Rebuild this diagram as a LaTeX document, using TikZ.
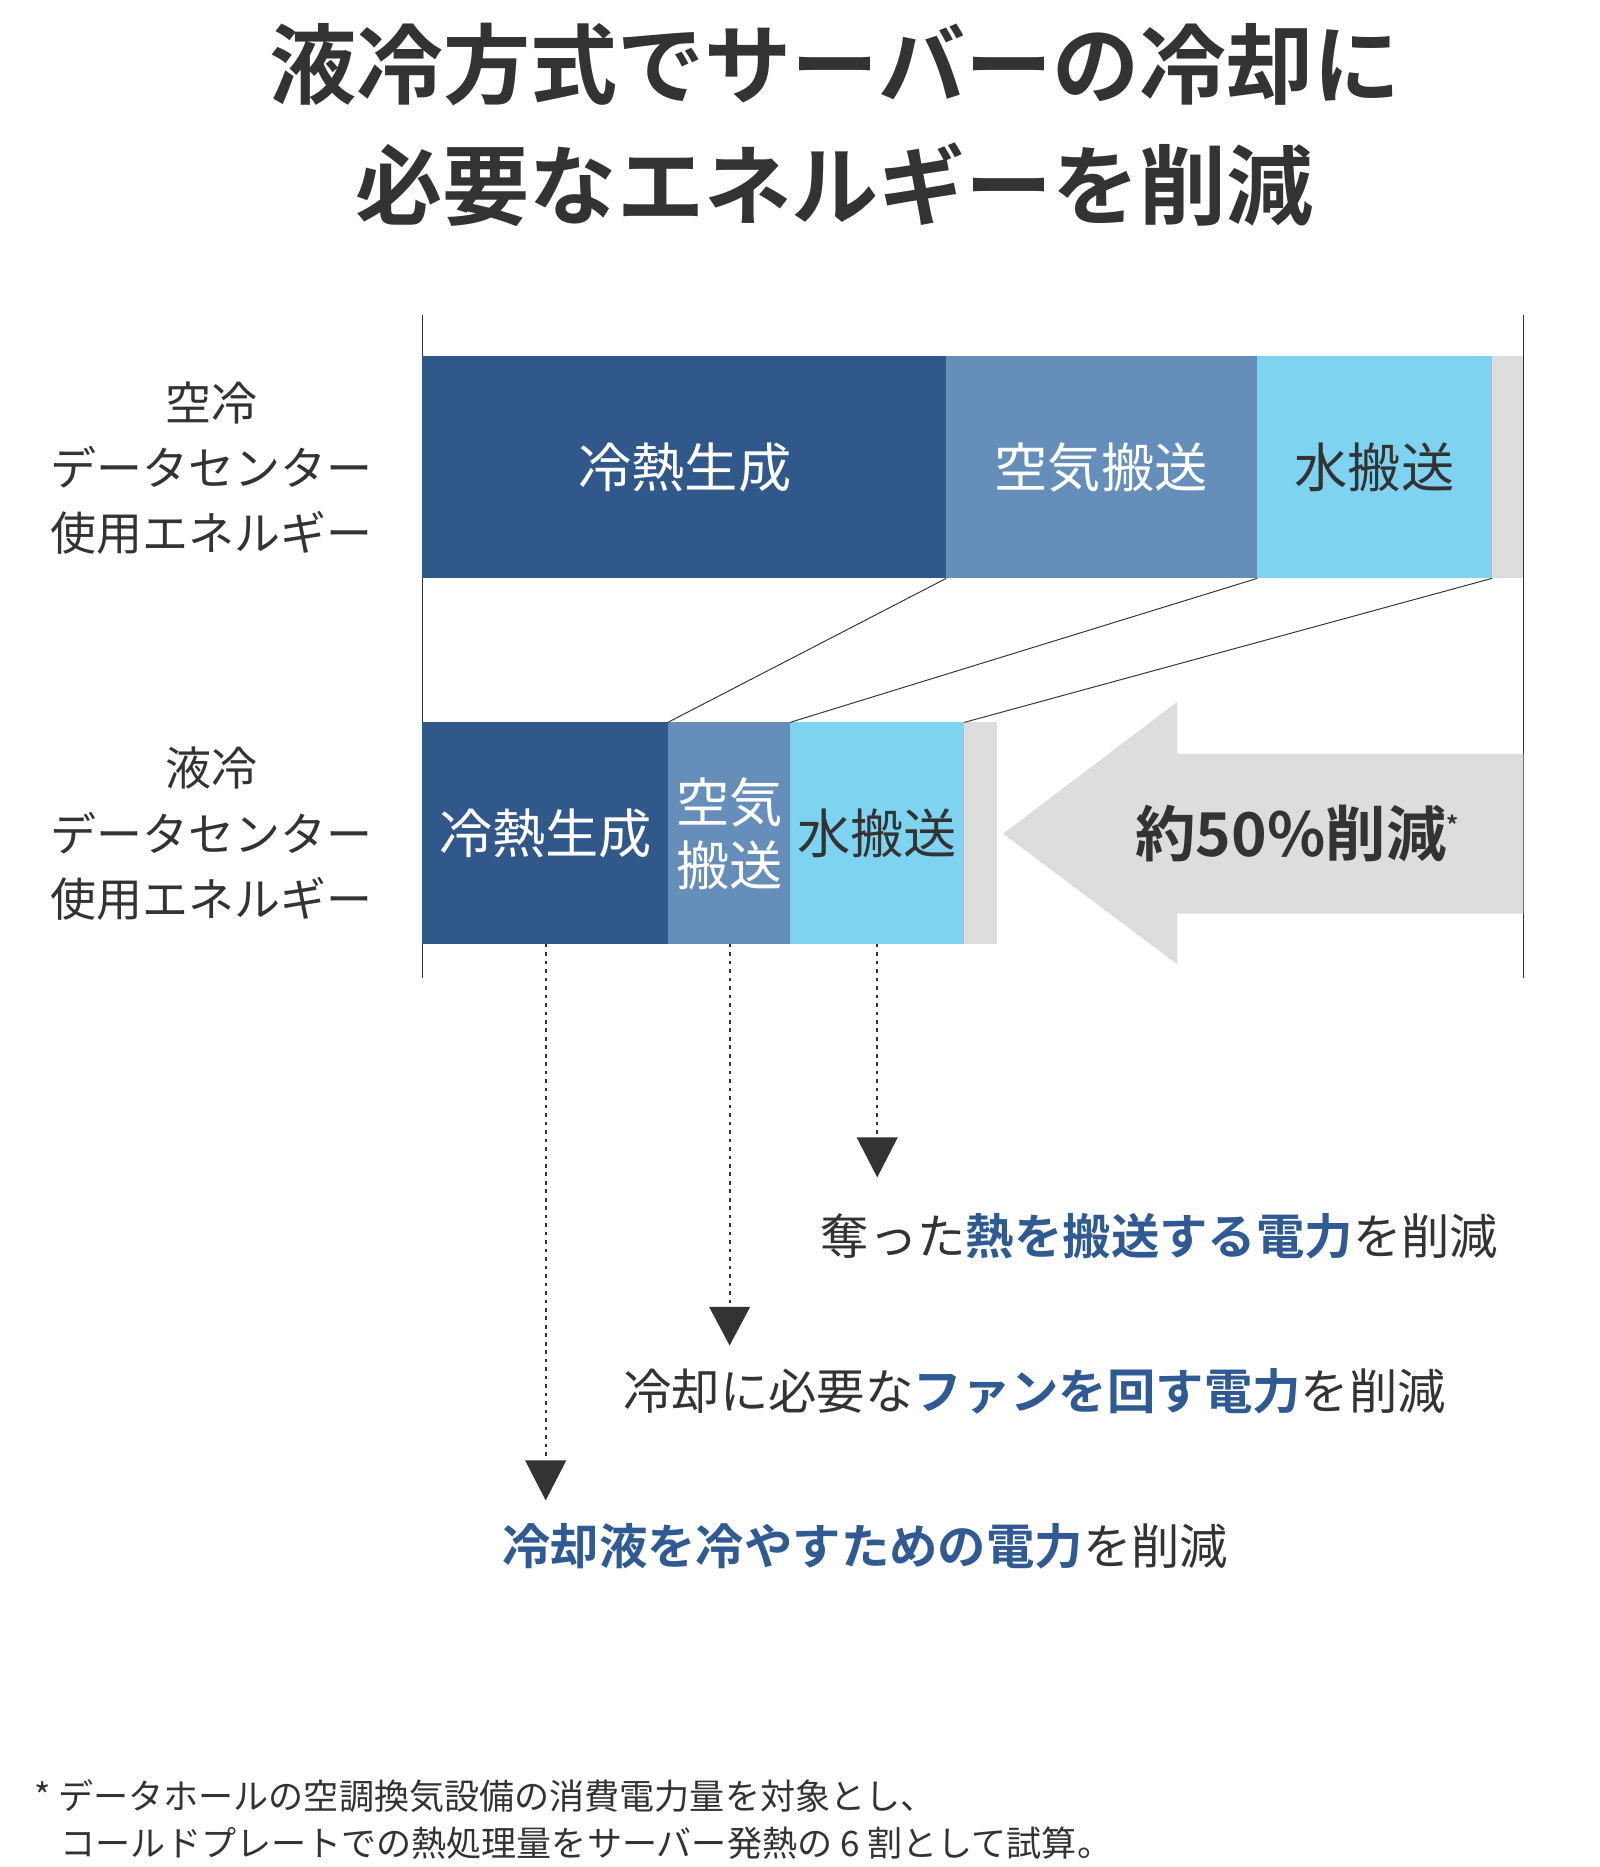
\documentclass[tikz,border=0pt]{standalone}
\usepackage{fontspec}
\setmainfont{Noto Sans CJK JP}[BoldFont={* Bold}]
\usetikzlibrary{arrows.meta}
\definecolor{dk}{HTML}{30588A}
\definecolor{md}{HTML}{668EBB}
\definecolor{lt}{HTML}{7DD3F0}
\definecolor{gr}{HTML}{DDDDDD}
\definecolor{tx}{HTML}{333333}
\definecolor{bl}{HTML}{2F5A93}
\newcommand{\fs}[1]{\fontsize{#1}{#1}\selectfont}
\newcommand{\hb}[1]{\textcolor{bl}{\bfseries #1}}
\begin{document}
\begin{tikzpicture}[x=1pt,y=-1pt,
  lab/.style={text=white,font=\fs{44}},
  side/.style={text=tx,font=\fontsize{38}{54}\selectfont,align=center},
  dl/.style={draw=tx,line width=1.8pt,dash pattern=on 3pt off 4pt},
  tip/.style={fill=tx},
  capt/.style={text=tx,font=\fs{40},anchor=west,inner sep=0},
  conn/.style={draw=tx,line width=0.8pt}]
\useasboundingbox (0,0) rectangle (1322,1543);
\node[text=tx,font=\fontsize{72}{100}\selectfont\bfseries,align=center] (title) at (690,103) {液冷方式でサーバーの冷却に\\必要なエネルギーを削減};
% axes
\coordinate (a1) at (349,260); \coordinate (a2) at (349,808);
\coordinate (b1) at (1259,260); \coordinate (b2) at (1259,808);
\draw[tx,line width=0.8pt] (a1)--(a2) (b1)--(b2);
% top bar
\fill[dk] (349,294) rectangle (782,478);
\fill[md] (782,294) rectangle (1039,478);
\fill[lt] (1039,294) rectangle (1233,478);
\fill[gr] (1233,294) rectangle (1259,478);
\node[lab] (t1) at (566,386) {冷熱生成};
\node[lab] (t2) at (910,386) {空気搬送};
\node[lab,text=tx] (t3) at (1136,386) {水搬送};
\node[side] (s1) at (175,387) {空冷\\データセンター\\使用エネルギー};
% bottom bar
\fill[dk] (349,597) rectangle (552,780);
\fill[md] (552,597) rectangle (653,780);
\fill[lt] (653,597) rectangle (797,780);
\fill[gr] (797,597) rectangle (824,780);
\node[lab] (u1) at (451,689) {冷熱生成};
\node[lab,align=center,font=\fontsize{44}{52}\selectfont] (u2) at (603,689) {空気\\搬送};
\node[lab,text=tx] (u3) at (725,689) {水搬送};
\node[side] (s2) at (175,689) {液冷\\データセンター\\使用エネルギー};
% connectors
\coordinate (c1) at (782,478); \coordinate (d1) at (552,597);
\coordinate (c2) at (1039,478); \coordinate (d2) at (653,597);
\coordinate (c3) at (1233,478); \coordinate (d3) at (797,597);
\draw[conn] (c1)--(d1) (c2)--(d2) (c3)--(d3);
% big arrow
\fill[gr] (829,689)--(973,580)--(973,623)--(1259,623)--(1259,755)--(973,755)--(973,797)--cycle;
\node[text=tx,font=\fs{50}\bfseries] (pct) at (1072,689) {約50\%削減\raisebox{18pt}{\fs{20}*}};
% dotted arrows
\coordinate (p1) at (451,780); \coordinate (q1) at (451,1207);
\coordinate (p2) at (603,780); \coordinate (q2) at (603,1080);
\coordinate (p3) at (725,780); \coordinate (q3) at (725,940);
\draw[dl] (p1)--(q1) (p2)--(q2) (p3)--(q3);
\fill[tip] (434,1207)--(468,1207)--(451,1240)--cycle;
\fill[tip] (586,1080)--(620,1080)--(603,1112)--cycle;
\fill[tip] (708,940)--(742,940)--(725,973)--cycle;
% captions
\node[capt] (k3) at (678,1022) {奪った\hb{熱を搬送する電力}を削減};
\node[capt] (k2) at (515,1150) {冷却に必要な\hb{ファンを回す電力}を削減};
\node[capt] (k1) at (415,1278) {\hb{冷却液を冷やすための電力}を削減};
% footnote
\node[text=tx,font=\fs{29},anchor=west,align=left,inner sep=0] (fn) at (28,1504) {* データホールの空調換気設備の消費電力量を対象とし、\\[10pt]\hspace*{22pt}コールドプレートでの熱処理量をサーバー発熱の 6 割として試算。};
\end{tikzpicture}
\end{document}
